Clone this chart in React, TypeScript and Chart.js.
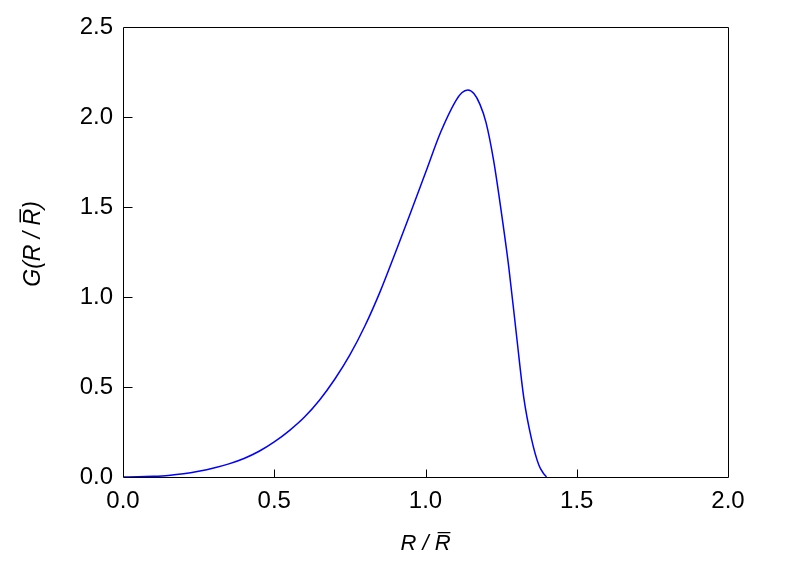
import React, { useEffect, useRef } from "react";
import { Chart, registerables } from "chart.js";

Chart.register(...registerables);

// R / R̄ values (x) and G(R/R̄) values (y)
const ratioValues = [
  0.0, 0.05, 0.1, 0.15, 0.2, 0.25, 0.3, 0.35, 0.4, 0.45, 0.5, 0.55, 0.6, 0.65,
  0.7, 0.75, 0.8, 0.85, 0.9, 0.95, 1.0, 1.05, 1.1, 1.12, 1.14, 1.16, 1.18,
  1.2, 1.225, 1.25, 1.275, 1.3, 1.325, 1.35, 1.375, 1.39, 1.4,
];
const gValues = [
  0.0, 0.001, 0.004, 0.009, 0.018, 0.032, 0.05, 0.073, 0.103, 0.143, 0.195,
  0.258, 0.333, 0.428, 0.543, 0.678, 0.84, 1.03, 1.245, 1.465, 1.69, 1.915,
  2.09, 2.135, 2.15, 2.13, 2.07, 1.97, 1.76, 1.48, 1.17, 0.8, 0.44, 0.215,
  0.065, 0.02, 0.0,
];

const xTickValues = [0.0, 0.5, 1.0, 1.5, 2.0];
const yTickValues = [0.0, 0.5, 1.0, 1.5, 2.0, 2.5];

const xTitle = "R / R\u0305";
const yTitle = "\u2002\u2009G(R / R\u0305)";

const FONT = "'Liberation Sans', Arial, Helvetica, sans-serif";

const framePlugin = {
  id: "frameAndTicks",
  afterDraw(chart: any) {
    const { ctx, chartArea, scales } = chart;
    const { left, right, top, bottom } = chartArea;
    ctx.save();
    ctx.strokeStyle = "#000";
    ctx.lineWidth = 1;
    const l = Math.round(left) + 0.5;
    const r = Math.round(right) + 0.5;
    const t = Math.round(top) + 0.5;
    const b = Math.round(bottom) + 0.5;
    ctx.beginPath();
    ctx.rect(l, t, r - l, b - t);
    ctx.stroke();
    ctx.beginPath();
    xTickValues.slice(1, -1).forEach((v) => {
      const px = Math.round(scales.x.getPixelForValue(v)) + 0.5;
      ctx.moveTo(px, b);
      ctx.lineTo(px, b - 8);
    });
    yTickValues.slice(1, -1).forEach((v) => {
      const py = Math.round(scales.y.getPixelForValue(v)) + 0.5;
      ctx.moveTo(l, py);
      ctx.lineTo(l + 9, py);
    });
    ctx.stroke();
    ctx.restore();
  },
};

export default function App() {
  const canvasRef = useRef<HTMLCanvasElement | null>(null);

  useEffect(() => {
    document.body.style.margin = "0";
    const canvas = canvasRef.current;
    if (!canvas) return;
    const points = ratioValues.map((x, i) => ({ x, y: gValues[i] }));
    const chart = new Chart(canvas, {
      type: "scatter",
      data: {
        datasets: [
          {
            data: points,
            showLine: true,
            borderColor: "#0000ff",
            backgroundColor: "#0000ff",
            borderWidth: 1.5,
            pointRadius: 0,
            cubicInterpolationMode: "monotone",
          },
        ],
      },
      options: {
        responsive: false,
        animation: false,
        devicePixelRatio: 1,
        layout: { padding: { top: 27, right: 81, left: 0, bottom: 0 } },
        plugins: {
          legend: { display: false },
          tooltip: { enabled: false },
        },
        scales: {
          x: {
            type: "linear",
            min: 0,
            max: 2,
            afterBuildTicks: (scale: any) => {
              scale.ticks = xTickValues.map((v) => ({ value: v }));
            },
            afterFit: (scale: any) => {
              scale.height = 90;
            },
            grid: { display: false, drawTicks: false },
            border: { display: false },
            ticks: {
              color: "#000",
              font: { family: FONT, size: 24 },
              padding: 10,
              maxRotation: 0,
              callback: (v: any) => Number(v).toFixed(1),
            },
            title: {
              display: true,
              text: xTitle,
              color: "#000",
              font: { family: FONT, size: 22, style: "italic" },
              padding: { top: 0, bottom: 10 },
            },
          },
          y: {
            type: "linear",
            min: 0,
            max: 2.5,
            afterBuildTicks: (scale: any) => {
              scale.ticks = yTickValues.map((v) => ({ value: v }));
            },
            afterFit: (scale: any) => {
              scale.width = 123;
            },
            grid: { display: false, drawTicks: false },
            border: { display: false },
            ticks: {
              color: "#000",
              font: { family: FONT, size: 24 },
              padding: 10,
              callback: (v: any) => Number(v).toFixed(1),
            },
            title: {
              display: true,
              text: yTitle,
              color: "#000",
              font: { family: FONT, size: 23, style: "italic" },
              padding: { top: 20, bottom: 0 },
            },
          },
        },
      },
      plugins: [framePlugin],
    });
    return () => chart.destroy();
  }, []);

  return (
    <div style={{ position: "absolute", left: 0, top: 0, width: 809, height: 567 }}>
      <canvas ref={canvasRef} width={809} height={567} />
    </div>
  );
}
